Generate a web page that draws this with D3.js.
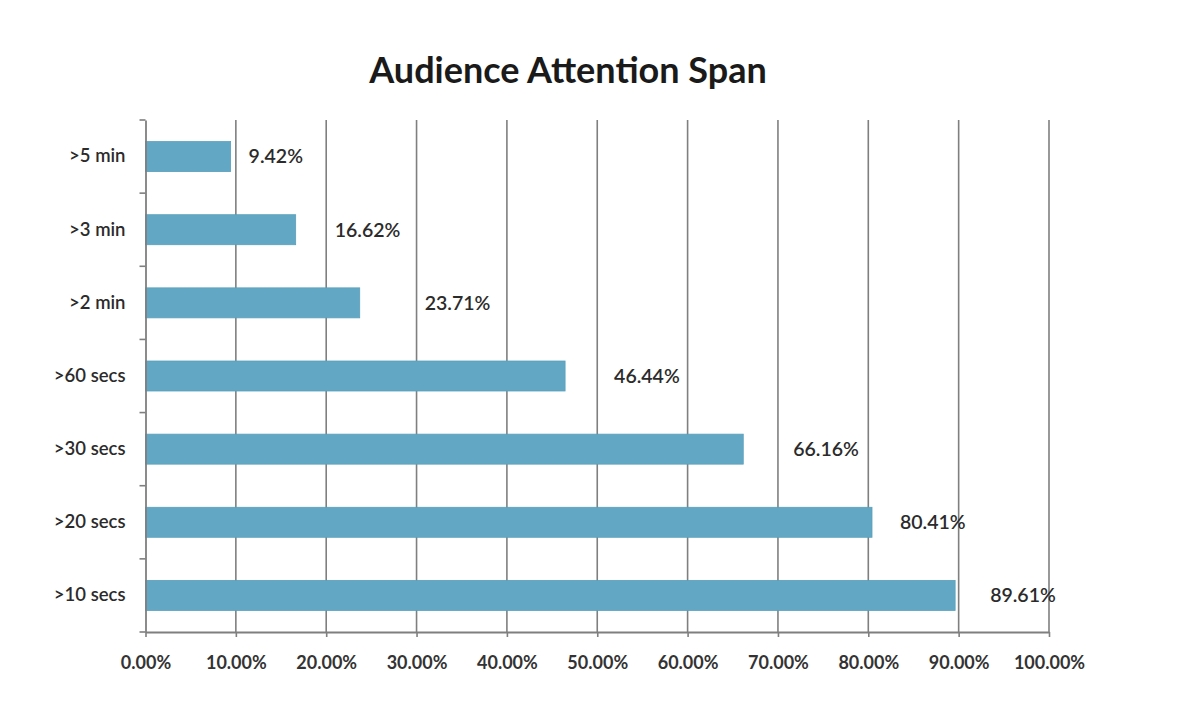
<!DOCTYPE html>
<html><head><meta charset="utf-8">
<script src="https://cdn.jsdelivr.net/npm/d3@7"></script>
<style>
body{margin:0;background:#fff;}
text{font-family:Lato,"Open Sans",sans-serif;}
</style></head>
<body>
<svg id="c" width="1194" height="726"></svg>
<script>
const categories = [">5 min", ">3 min", ">2 min", ">60 secs", ">30 secs", ">20 secs", ">10 secs"];
const values = [9.42, 16.62, 23.71, 46.44, 66.16, 80.41, 89.61];
const xTicks = [0,10,20,30,40,50,60,70,80,90,100];
const title = "Audience Attention Span";
// label offsets (px) from bar end, as placed in the original
const labelDx = [18, 39, 65, 49, 50, 28, 35];

const svg = d3.select("#c");
const m = {left:145.5, right:1049, top:120, bottom:632};
const x = d3.scaleLinear().domain([0,100]).range([m.left, m.right]);
const y = d3.scaleBand().domain(categories).range([m.top, m.bottom]).paddingInner(0.59).paddingOuter(0.295);

svg.append("text").attr("x",568).attr("y",83).attr("text-anchor","middle")
  .attr("font-size",36).attr("font-weight","bold").attr("fill","#1a1a1a").text(title);

// gridlines
svg.append("g").selectAll("line").data(xTicks.slice(1)).join("line")
  .attr("x1",d=>x(d)).attr("x2",d=>x(d)).attr("y1",m.top).attr("y2",m.bottom)
  .attr("stroke","#7f7f7f").attr("stroke-width",1.6);

// bars
svg.append("g").selectAll("rect").data(values).join("rect")
  .attr("x",x(0)).attr("y",(d,i)=>y(categories[i]))
  .attr("width",d=>x(d)-x(0)).attr("height",y.bandwidth())
  .attr("fill","#62a8c4").attr("stroke","#5a9fbb").attr("stroke-width",0.8);

// value labels
svg.append("g").selectAll("text").data(values).join("text")
  .attr("x",(d,i)=>x(d)+labelDx[i]).attr("y",(d,i)=>y(categories[i])+y.bandwidth()/2)
  .attr("dy","0.35em").attr("font-size",19.5).attr("fill","#2b2b2b").attr("font-weight",600)
  .text(d=>d.toFixed(2)+"%");

// x axis
const xa = svg.append("g").attr("transform",`translate(0,${m.bottom})`)
  .call(d3.axisBottom(x).tickValues(xTicks).tickSize(5).tickFormat(d=>d.toFixed(2)+"%").tickSizeOuter(0));
xa.select(".domain").attr("stroke","#7f7f7f").attr("stroke-width",1.8);
xa.selectAll(".tick line").attr("stroke","#7f7f7f").attr("stroke-width",1.6);
xa.selectAll(".tick text").attr("font-size",18).attr("font-weight","bold").attr("fill","#333")
  .attr("font-family","Lato,'Open Sans',sans-serif").attr("y",24);

// y axis
const ya = svg.append("g").attr("transform",`translate(${m.left},0)`)
  .call(d3.axisLeft(y).tickSize(0).tickPadding(20));
ya.select(".domain").attr("stroke","#7f7f7f").attr("stroke-width",1.8);
ya.selectAll(".tick text").attr("font-size",18.5).attr("fill","#2b2b2b").attr("font-weight",600)
  .attr("font-family","Lato,'Open Sans',sans-serif");
// y tick marks at band boundaries
const bounds = d3.range(categories.length+1).map(i=>m.top + i*(m.bottom-m.top)/categories.length);
svg.append("g").selectAll("line").data(bounds).join("line")
  .attr("x1",m.left-6).attr("x2",m.left).attr("y1",d=>d).attr("y2",d=>d)
  .attr("stroke","#7f7f7f").attr("stroke-width",1.6);
</script>
</body></html>
